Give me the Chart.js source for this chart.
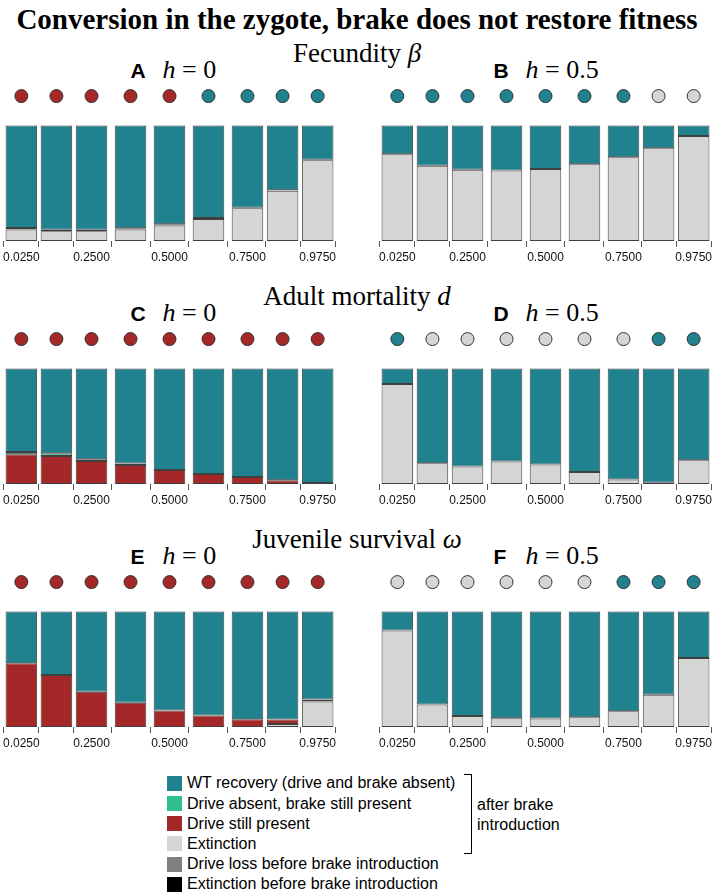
<!DOCTYPE html>
<html>
<head>
<meta charset="utf-8">
<script src="https://cdn.jsdelivr.net/npm/chart.js@4/dist/chart.umd.min.js"></script>
<style>
body{margin:0;width:714px;height:892px;position:relative;background:#fff;overflow:hidden}
.t{position:absolute;white-space:nowrap;line-height:1}
.c{transform:translate(-50%,-50%)}
.v{transform:translateY(-50%)}
.serif{font-family:"Liberation Serif","DejaVu Serif",serif}
.sans{font-family:"Liberation Sans",Arial,sans-serif}
.box{position:absolute}
.sw{position:absolute;width:15px;height:15px}
</style>
</head>
<body>

<div class="t c serif" style="left:357px;top:19px;font-size:29px;font-weight:bold">Conversion in the zygote, brake does not restore fitness</div>

<div class="t c serif" style="left:357px;top:53px;font-size:27px">Fecundity <i>β</i></div>
<div class="t c serif" style="left:357px;top:296px;font-size:27px">Adult mortality <i>d</i></div>
<div class="t c serif" style="left:357px;top:539px;font-size:27px">Juvenile survival <i>ω</i></div>

<div id="labels"></div>
<div id="charts"></div>
<div id="legend"></div>

<div class="box" style="left:464px;top:774px;width:7px;height:78px;border:1.5px solid #000;border-left:none"></div>
<div class="t v sans" style="left:477px;top:805px;font-size:16px">after brake</div>
<div class="t v sans" style="left:477px;top:825px;font-size:16px">introduction</div>

<script>
// x positions of the 9 parameter values and their tick labels
var xValues = [0.025, 0.1375, 0.25, 0.375, 0.5, 0.625, 0.75, 0.8625, 0.975];
var tickLabels = ['0.0250', '', '0.2500', '', '0.5000', '', '0.7500', '', '0.9750'];

var outcomeNames = [
    'WT recovery (drive and brake absent)',
    'Drive absent, brake still present',
    'Drive still present',
    'Extinction',
    'Drive loss before brake introduction',
    'Extinction before brake introduction'
];
var outcomeColors = ['#20818f', '#2fbf8e', '#a52828', '#d5d5d5', '#808080', '#000000'];

// fractions per panel, bottom of stack first
var extA   = [0.100, 0.085, 0.085, 0.100, 0.135, 0.190, 0.283, 0.436, 0.700];
var redA   = [0.012, 0.012, 0.012, 0.010, 0, 0, 0, 0, 0];
var greenA = [0, 0, 0, 0, 0.010, 0.010, 0.005, 0.004, 0.004];
var wtA    = [0.888, 0.903, 0.903, 0.890, 0.855, 0.800, 0.712, 0.560, 0.296];

var extB   = [0.751, 0.653, 0.618, 0.610, 0.624, 0.665, 0.725, 0.803, 0.910];
var wtB    = [0.249, 0.347, 0.382, 0.390, 0.376, 0.335, 0.275, 0.197, 0.090];

var redC   = [0.258, 0.243, 0.200, 0.165, 0.122, 0.087, 0.060, 0.032, 0.008];
var greenC = [0.020, 0.023, 0.015, 0.012, 0, 0, 0, 0, 0];
var wtC    = [0.722, 0.734, 0.785, 0.823, 0.878, 0.913, 0.940, 0.968, 0.992];

var extD   = [0.867, 0.180, 0.151, 0.194, 0.168, 0.104, 0.040, 0.010, 0.206];
var wtD    = [0.133, 0.820, 0.849, 0.806, 0.832, 0.896, 0.960, 0.990, 0.794];

var extE   = [0, 0, 0, 0, 0, 0, 0, 0.026, 0.220];
var redE   = [0.552, 0.450, 0.305, 0.210, 0.142, 0.099, 0.067, 0.040, 0.018];
var wtE    = [0.448, 0.550, 0.695, 0.790, 0.858, 0.901, 0.933, 0.934, 0.762];

var extF   = [0.837, 0.195, 0.096, 0.076, 0.073, 0.084, 0.137, 0.279, 0.599];
var wtF    = [0.163, 0.805, 0.904, 0.924, 0.927, 0.916, 0.863, 0.721, 0.401];

var zeros = [0, 0, 0, 0, 0, 0, 0, 0, 0];

// dominant outcome marker above each bar (index into outcomeColors)
var dotsA = [2, 2, 2, 2, 2, 0, 0, 0, 0];
var dotsB = [0, 0, 0, 0, 0, 0, 0, 3, 3];
var dotsC = [2, 2, 2, 2, 2, 2, 2, 2, 2];
var dotsD = [0, 3, 3, 3, 3, 3, 3, 0, 0];
var dotsE = [2, 2, 2, 2, 2, 2, 2, 2, 2];
var dotsF = [3, 3, 3, 3, 3, 3, 0, 0, 0];

var panels = [
    {id: 'A', h: '0',   left: 3.5,   barTop: 126, ext: extA, red: redA, green: greenA, wt: wtA, dots: dotsA},
    {id: 'B', h: '0.5', left: 379.6, barTop: 126, ext: extB, red: zeros, green: zeros, wt: wtB, dots: dotsB},
    {id: 'C', h: '0',   left: 3.5,   barTop: 369, ext: zeros, red: redC, green: greenC, wt: wtC, dots: dotsC},
    {id: 'D', h: '0.5', left: 379.6, barTop: 369, ext: extD, red: zeros, green: zeros, wt: wtD, dots: dotsD},
    {id: 'E', h: '0',   left: 3.5,   barTop: 612, ext: extE, red: redE, green: zeros, wt: wtE, dots: dotsE},
    {id: 'F', h: '0.5', left: 379.6, barTop: 612, ext: extF, red: zeros, green: zeros, wt: wtF, dots: dotsF}
];

// the x axis adds ~19px for half of the end tick labels on top of layout padding
var PAD = 30, LABEL_OVER = 19, AREA_W = 331, AREA_H = 150, TOP_PAD = 8, AXIS_H = 26, YMAX = 1.3;

function pts(arr) {
    return xValues.map(function (x, i) { return {x: x, y: arr[i]}; });
}

function barSet(label, arr, color) {
    return {
        type: 'bar', label: label, data: pts(arr),
        backgroundColor: color, borderColor: '#404040', borderWidth: 1,
        borderSkipped: false, barPercentage: 0.9, categoryPercentage: 1
    };
}

function makePanel(p) {
    var wrap = document.createElement('div');
    wrap.className = 'box';
    wrap.style.left = (p.left - PAD) + 'px';
    wrap.style.top = (p.barTop - (YMAX - 1) * 115.4 - TOP_PAD) + 'px';
    wrap.style.width = (AREA_W + 2 * PAD) + 'px';
    wrap.style.height = (TOP_PAD + AREA_H + AXIS_H) + 'px';
    var cv = document.createElement('canvas');
    wrap.appendChild(cv);
    document.getElementById('charts').appendChild(wrap);

    var labelX = p.left + (p.h === '0' ? 127 : 114);
    var lab = document.getElementById('labels');
    lab.insertAdjacentHTML('beforeend',
        '<div class="t v sans" style="left:' + labelX + 'px;top:' + (p.barTop - 56) + 'px;font-size:21px;font-weight:bold">' + p.id + '</div>' +
        '<div class="t v serif" style="left:' + (labelX + 32) + 'px;top:' + (p.barTop - 56) + 'px;font-size:26px"><i>h</i> = ' + p.h + '</div>');

    new Chart(cv, {
        data: {
            datasets: [
                barSet(outcomeNames[3], p.ext, outcomeColors[3]),
                barSet(outcomeNames[5], zeros, outcomeColors[5]),
                barSet(outcomeNames[4], zeros, outcomeColors[4]),
                barSet(outcomeNames[2], p.red, outcomeColors[2]),
                barSet(outcomeNames[1], p.green, outcomeColors[1]),
                barSet(outcomeNames[0], p.wt, outcomeColors[0]),
                {
                    type: 'line', label: 'dominant', yAxisID: 'y2', showLine: false, clip: false,
                    data: xValues.map(function (x) { return {x: x, y: 1.256}; }),
                    pointRadius: 6.5, pointHoverRadius: 6.5, pointBorderWidth: 1, pointBorderColor: '#333',
                    pointBackgroundColor: p.dots.map(function (k) { return outcomeColors[k]; })
                }
            ]
        },
        options: {
            responsive: true, maintainAspectRatio: false, animation: false,
            layout: {padding: {left: PAD - LABEL_OVER, right: PAD - LABEL_OVER, top: TOP_PAD, bottom: 0}},
            plugins: {legend: {display: false}, tooltip: {enabled: false}},
            scales: {
                x: {
                    type: 'linear', min: -0.0258, max: 1.0258, stacked: true,
                    afterBuildTicks: function (s) { s.ticks = xValues.map(function (v) { return {value: v}; }); },
                    afterFit: function (s) { s.height = AXIS_H; },
                    border: {display: false},
                    grid: {display: true, drawOnChartArea: false, drawTicks: true, tickLength: 6, color: '#555'},
                    ticks: {
                        autoSkip: false, maxRotation: 0, padding: 3, color: '#111',
                        font: {family: '"Liberation Sans", Arial, sans-serif', size: 12},
                        callback: function (v, i) { return tickLabels[i]; }
                    }
                },
                y: {display: false, stacked: true, min: 0, max: YMAX},
                y2: {display: false, min: 0, max: YMAX}
            }
        }
    });
}

panels.forEach(makePanel);

// legend
var leg = document.getElementById('legend');
var rowY = [783, 803.5, 823.5, 843.5, 864, 884];
outcomeNames.forEach(function (name, i) {
    leg.insertAdjacentHTML('beforeend',
        '<div class="sw" style="left:167px;top:' + (rowY[i] - 7.5) + 'px;background:' + outcomeColors[i] + '"></div>' +
        '<div class="t v sans" style="left:187px;top:' + rowY[i] + 'px;font-size:16px">' + name + '</div>');
});
</script>
</body>
</html>
